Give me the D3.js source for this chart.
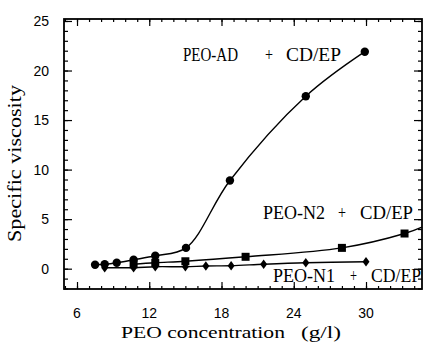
<!DOCTYPE html>
<html>
<head>
<meta charset="utf-8">
<script src="https://cdn.jsdelivr.net/npm/d3@7"></script>
<style>
  body { margin: 0; background: #fff; }
  svg { display: block; }
</style>
</head>
<body>
<div id="chart"></div>
<script>
// donnees
const adX = [7.5, 8.3, 9.3, 10.7, 12.5, 15.05, 18.7, 25.0, 29.9];
const adY = [0.4, 0.45, 0.6, 0.9, 1.3, 2.1, 8.9, 17.4, 21.9];
const n2X = [10.7, 12.5, 15.0, 20.0, 28.0, 33.2];
const n2Y = [0.45, 0.6, 0.75, 1.2, 2.1, 3.55];
const n2FinLigne = [34.65, 4.2]; // la courbe continue jusqu'au bord du cadre
const n1X = [8.3, 10.7, 12.5, 15.0, 16.7, 18.8, 21.5, 25.0, 30.0];
const n1Y = [0.1, 0.1, 0.2, 0.2, 0.27, 0.3, 0.45, 0.6, 0.7];
const xTicks = [6, 12, 18, 24, 30];
const yTicks = [0, 5, 10, 15, 20, 25];
const xTitre = ["PEO concentration", "(g/l)"];
const yTitre = "Specific viscosity";
const etiquettes = [["PEO-AD", "+", "CD/EP"], ["PEO-N2", "+", "CD/EP"], ["PEO-N1", "+", "CD/EP"]];

const W = 426, H = 344;
const svg = d3.select("#chart").append("svg").attr("width", W).attr("height", H);

const x = d3.scaleLinear().domain([4.92, 34.65]).range([64, 422]);
const y = d3.scaleLinear().domain([-2.05, 25.2]).range([289, 19]);

const serif = "'Liberation Serif', 'DejaVu Serif', serif";
const sans = "'Liberation Sans', Arial, sans-serif";

const xMin = d3.range(5, 35, 1);
const yMin = d3.range(-2, 26, 1);

// Axes : ticks vers l'interieur, mineurs puis majeurs
// bas
svg.append("g").attr("transform", "translate(0,289)")
  .call(d3.axisTop(x).tickValues(xMin).tickSize(3).tickFormat(""));
svg.append("g").attr("transform", "translate(0,289)")
  .call(d3.axisTop(x).tickValues(xTicks).tickSize(7).tickFormat(""));
// haut
svg.append("g").attr("transform", "translate(0,19)")
  .call(d3.axisBottom(x).tickValues(xMin).tickSize(3).tickFormat(""));
svg.append("g").attr("transform", "translate(0,19)")
  .call(d3.axisBottom(x).tickValues(xTicks).tickSize(7).tickFormat(""));
// gauche
svg.append("g").attr("transform", "translate(64,0)")
  .call(d3.axisRight(y).tickValues(yMin).tickSize(4).tickFormat(""));
svg.append("g").attr("transform", "translate(64,0)")
  .call(d3.axisRight(y).tickValues(yTicks).tickSize(8).tickFormat(""));
// droite
svg.append("g").attr("transform", "translate(422,0)")
  .call(d3.axisLeft(y).tickValues(yMin).tickSize(4).tickFormat(""));
svg.append("g").attr("transform", "translate(422,0)")
  .call(d3.axisLeft(y).tickValues(yTicks).tickSize(8).tickFormat(""));

svg.selectAll(".domain").remove();
svg.selectAll(".tick line").attr("stroke", "#000").attr("stroke-width", 1.2);

// cadre
svg.append("rect")
  .attr("x", 64).attr("y", 19).attr("width", 422 - 64).attr("height", 289 - 19)
  .attr("fill", "none").attr("stroke", "#000").attr("stroke-width", 1.8);

// libelles des ticks
svg.append("g").selectAll("text").data(xTicks).join("text")
  .attr("x", d => x(d)).attr("y", 318)
  .attr("text-anchor", "middle")
  .attr("font-family", sans).attr("font-size", 14)
  .text(d => d);

svg.append("g").selectAll("text").data(yTicks).join("text")
  .attr("x", 49).attr("y", d => y(d) + 5)
  .attr("text-anchor", "end")
  .attr("font-family", sans).attr("font-size", 14)
  .text(d => d);

// titres d'axes
svg.append("text").attr("x", 121).attr("y", 338)
  .attr("font-family", serif).attr("font-size", 17)
  .attr("textLength", 164).attr("lengthAdjust", "spacingAndGlyphs")
  .text(xTitre[0]);
svg.append("text").attr("x", 301).attr("y", 338)
  .attr("font-family", serif).attr("font-size", 17)
  .attr("textLength", 40).attr("lengthAdjust", "spacingAndGlyphs")
  .text(xTitre[1]);

svg.append("text")
  .attr("transform", "translate(21,242) rotate(-90)")
  .attr("font-family", serif).attr("font-size", 18)
  .attr("textLength", 157).attr("lengthAdjust", "spacingAndGlyphs")
  .text(yTitre);

// courbes
const ligne = d3.line().x(d => x(d[0])).y(d => y(d[1])).curve(d3.curveCatmullRom.alpha(0.5));
const adPts = adX.map((v, i) => [v, adY[i]]);
const n2Pts = n2X.map((v, i) => [v, n2Y[i]]);
const n1Pts = n1X.map((v, i) => [v, n1Y[i]]);

const courbes = svg.append("g").attr("fill", "none").attr("stroke", "#000").attr("stroke-width", 1.4);
courbes.append("path").attr("d", ligne(adPts));
courbes.append("path").attr("d", ligne(n2Pts.concat([n2FinLigne])));
courbes.append("path").attr("d", ligne(n1Pts));

// marqueurs
const marques = svg.append("g").attr("fill", "#000");
marques.selectAll("circle").data(adPts).join("circle")
  .attr("cx", d => x(d[0])).attr("cy", d => y(d[1])).attr("r", 4.2);
marques.selectAll("rect.carre").data(n2Pts).join("rect").attr("class", "carre")
  .attr("x", d => x(d[0]) - 4).attr("y", d => y(d[1]) - 4)
  .attr("width", 8).attr("height", 8);
marques.selectAll("path.losange").data(n1Pts).join("path").attr("class", "losange")
  .attr("d", d3.symbol(d3.symbolDiamond, 32))
  .attr("transform", d => "translate(" + x(d[0]) + "," + y(d[1]) + ") scale(1.15,0.9)");

// etiquettes des series
const posEtiq = [
  { y: 61, parts: [[183, 55], [265, 8], [286, 55]] },
  { y: 219, parts: [[263, 62], [338, 8], [360, 53]] },
  { y: 282, parts: [[273, 62], [350, 7], [371, 50]] }
];
etiquettes.forEach((e, i) => {
  e.forEach((t, j) => {
    svg.append("text")
      .attr("x", posEtiq[i].parts[j][0]).attr("y", posEtiq[i].y)
      .attr("font-family", serif).attr("font-size", 18)
      .attr("textLength", posEtiq[i].parts[j][1]).attr("lengthAdjust", "spacingAndGlyphs")
      .text(t);
  });
});
</script>
</body>
</html>
